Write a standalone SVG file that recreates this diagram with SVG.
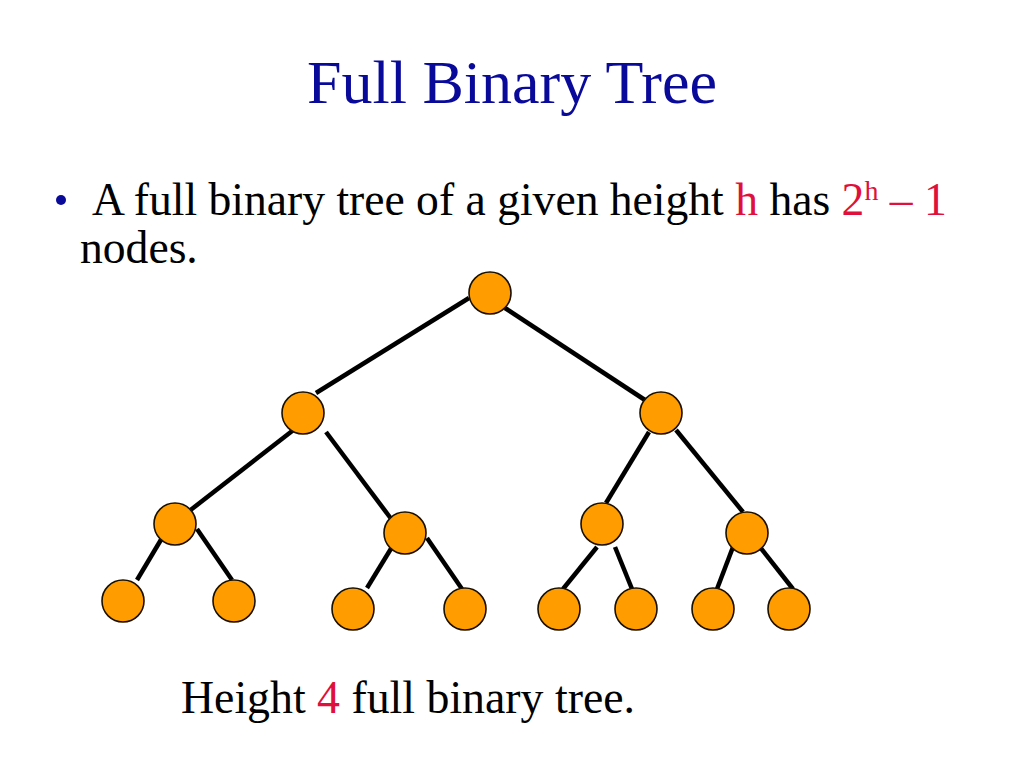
<svg xmlns="http://www.w3.org/2000/svg" width="1024" height="768" viewBox="0 0 1024 768">
<style>
.t{font-family:"Liberation Serif","Times New Roman",serif}
.red{fill:#E0103C}
.node circle{fill:#FF9C00;stroke:#1a1000;stroke-width:1.6}
.edges line{stroke:#000;stroke-width:4.5;stroke-linecap:butt}
</style>
<rect width="1024" height="768" fill="#fff"/>
<text class="t" x="512" y="103" font-size="62" fill="#0A0A9A" text-anchor="middle">Full Binary Tree</text>
<circle cx="61" cy="200" r="5" fill="#0A0A9A"/>
<text class="t" x="92" y="215" font-size="45.6" fill="#000">A full binary tree of a given height <tspan class="red">h</tspan> has <tspan class="red">2</tspan><tspan class="red" font-size="28" dy="-15">h</tspan><tspan class="red" dy="15"> – 1</tspan></text>
<text class="t" x="80" y="263" font-size="45.6" fill="#000">nodes.</text>
<text class="t" x="181" y="713" font-size="45.8" fill="#000">Height <tspan class="red">4</tspan> full binary tree.</text>
<g class="edges" id="edges">
<line x1="316" y1="393" x2="469" y2="298"/>
<line x1="505" y1="308" x2="648" y2="402"/>
<line x1="296" y1="428" x2="188" y2="512"/>
<line x1="326" y1="432" x2="392" y2="520"/>
<line x1="649" y1="432" x2="606" y2="503"/>
<line x1="676" y1="430" x2="743" y2="512"/>
<line x1="162" y1="538" x2="137" y2="580"/>
<line x1="197" y1="529" x2="232" y2="580"/>
<line x1="392" y1="547" x2="367" y2="588"/>
<line x1="427" y1="538" x2="462" y2="589"/>
<line x1="597" y1="547" x2="563" y2="589"/>
<line x1="615" y1="547" x2="632" y2="589"/>
<line x1="733" y1="547" x2="717" y2="589"/>
<line x1="760" y1="547" x2="793" y2="589"/>
</g>
<g class="node" id="n1"><circle cx="490" cy="293" r="21"/></g>
<g class="node" id="n2"><circle cx="303" cy="413" r="21"/></g>
<g class="node" id="n3"><circle cx="661" cy="413" r="21"/></g>
<g class="node" id="n4"><circle cx="175" cy="524" r="21"/></g>
<g class="node" id="n5"><circle cx="405" cy="533" r="21"/></g>
<g class="node" id="n6"><circle cx="602" cy="524" r="21"/></g>
<g class="node" id="n7"><circle cx="747" cy="533" r="21"/></g>
<g class="node" id="n8"><circle cx="123" cy="601" r="21"/></g>
<g class="node" id="n9"><circle cx="234" cy="601" r="21"/></g>
<g class="node" id="n10"><circle cx="353" cy="609" r="21"/></g>
<g class="node" id="n11"><circle cx="465" cy="609" r="21"/></g>
<g class="node" id="n12"><circle cx="559" cy="609" r="21"/></g>
<g class="node" id="n13"><circle cx="636" cy="609" r="21"/></g>
<g class="node" id="n14"><circle cx="713" cy="609" r="21"/></g>
<g class="node" id="n15"><circle cx="789" cy="609" r="21"/></g>
</svg>
